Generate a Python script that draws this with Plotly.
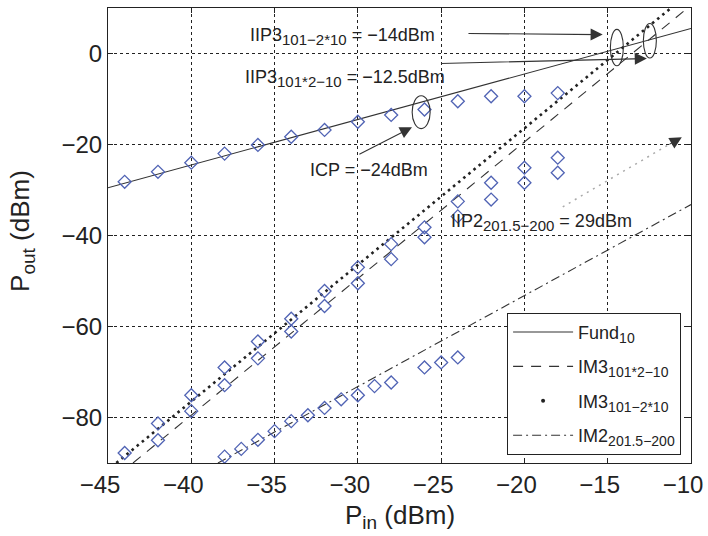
import plotly.graph_objects as go

# ---------------- data ----------------
fund_x = [-44, -42, -40, -38, -36, -34, -32, -30, -28, -26, -24, -22, -20, -18]
fund_y = [-28.2, -26.0, -24.0, -22.0, -20.1, -18.3, -16.8, -15.0, -13.5, -12.3, -10.5, -9.4, -9.4, -8.7]

im3_x = [-44, -42, -42, -40, -40, -38, -38, -36, -36, -34, -34, -32, -32, -30, -30,
         -28, -28, -26, -26, -24, -24, -22, -22, -20, -20, -18, -18]
im3_y = [-87.8, -81.3, -85.0, -75.1, -78.6, -69.0, -72.9, -63.3, -67.0, -58.3, -61.1,
         -52.2, -55.5, -47.0, -50.5, -41.9, -45.2, -38.2, -40.4, -32.5, -35.8,
         -28.4, -32.1, -25.1, -28.4, -22.9, -26.2]

im2_x = [-38, -37, -36, -35, -34, -33, -32, -31, -30, -29, -28, -26, -25, -24]
im2_y = [-88.6, -86.9, -84.9, -83.0, -80.8, -79.5, -77.9, -76.0, -75.1, -73.1, -72.3, -69.0, -67.9, -66.8]

# fitted lines (end points)
fund_line_x = [-45, -10]
fund_line_y = [-29.5, 5.5]
im3a_line_x = [-43.5, -10.2]          # IM3 101*2-10 (dashed)
im3a_line_y = [-90.0, 10.0]
im3b_line_x = [-44.5, -11.2]          # IM3 101-2*10 (dotted)
im3b_line_y = [-90.0, 10.0]
im2_line_x = [-38.4, -10]             # IM2 201.5-200 (dash-dot)
im2_line_y = [-90.0, -33.2]

x_ticks = [-45, -40, -35, -30, -25, -20, -15, -10]
y_ticks = [-80, -60, -40, -20, 0]


def sub(main, s, size):
    return f"{main}<sub><span style='font-size:{size}px'>{s}</span></sub>"


legend_names = [sub("Fund", "10", 14), sub("IM3", "101*2−10", 14),
                sub("IM3", "101−2*10", 14), sub("IM2", "201.5−200", 14)]

FONT = "Liberation Sans, Arial, Helvetica, sans-serif"
BLUE = "#5063b4"
INK = "#222222"

fig = go.Figure()

# lines
fig.add_trace(go.Scatter(x=fund_line_x, y=fund_line_y, mode="lines", name=legend_names[0],
                         legendgroup="a", line=dict(color="#333333", width=1.1)))
fig.add_trace(go.Scatter(x=im3a_line_x, y=im3a_line_y, mode="lines", name=legend_names[1],
                         legendgroup="b", line=dict(color="#333333", width=1.1, dash="10px,8px")))
fig.add_trace(go.Scatter(x=im3b_line_x, y=im3b_line_y, mode="lines", name=legend_names[2],
                         showlegend=False, legendgroup="c",
                         line=dict(color="#222222", width=2.6, dash="2.6px,4px")))
fig.add_trace(go.Scatter(x=[None], y=[None], mode="markers", name=legend_names[2],
                         legendgroup="c", marker=dict(color="#222222", size=4)))
fig.add_trace(go.Scatter(x=im2_line_x, y=im2_line_y, mode="lines", name=legend_names[3],
                         legendgroup="d",
                         line=dict(color="#333333", width=1.1, dash="9px,4px,2px,4px")))

# measured points
mk = dict(symbol="diamond-open", size=10, color=BLUE, line=dict(color=BLUE, width=1.3))
for xs, ys in [(fund_x, fund_y), (im3_x, im3_y), (im2_x, im2_y)]:
    fig.add_trace(go.Scatter(x=xs, y=ys, mode="markers", marker=mk, showlegend=False,
                             hoverinfo="x+y"))

# ellipses
ellipses = [(-14.45, 1.3, 0.39, 4.0), (-12.47, 2.8, 0.39, 3.8), (-26.2, -12.9, 0.54, 3.6)]
for cx, cy, rx, ry in ellipses:
    fig.add_shape(type="circle", xref="x", yref="y", x0=cx - rx, x1=cx + rx,
                  y0=cy - ry, y1=cy + ry, line=dict(color="#333333", width=1.1))

# dotted shaft of IIP2 arrow
fig.add_shape(type="line", xref="x", yref="y", x0=-17.7, y0=-33.7, x1=-10.9, y1=-19.1,
              line=dict(color="#aaaaaa", width=1.5, dash="2px,5px"))

# arrows
arrows = [((-23.45, 4.4), (-15.3, 4.15)),
          ((-25.1, -2.2), (-12.65, -1.1)),
          ((-30.0, -22.3), (-26.75, -16.2))]
for (tx, ty), (hx, hy) in arrows:
    fig.add_annotation(x=hx, y=hy, ax=tx, ay=ty, axref="x", ayref="y", xref="x", yref="y",
                       showarrow=True, arrowhead=2, arrowsize=2.2, arrowwidth=1.1,
                       arrowcolor="#333333", text="")
fig.add_annotation(x=-10.55, y=-18.4, ax=-14, ay=8, xref="x", yref="y", text="",
                   showarrow=True, arrowhead=2, arrowsize=2.2, arrowwidth=1.1,
                   arrowcolor="#333333")

# text labels
labels = [(-36.6, 3.7, sub("IIP3", "101−2*10", 15) + " = −14dBm"),
          (-36.9, -5.5, sub("IIP3", "101*2−10", 15) + " = −12.5dBm"),
          (-33.0, -25.6, "ICP = −24dBm"),
          (-24.5, -37.2, sub("IIP2", "201.5−200", 15) + " = 29dBm")]
for lx, ly, txt in labels:
    fig.add_annotation(x=lx, y=ly, xref="x", yref="y", text=txt, showarrow=False,
                       xanchor="left", yanchor="middle",
                       font=dict(family=FONT, size=18, color=INK))

# axis titles
fig.add_annotation(x=0.5, y=-0.077, xref="paper", yref="paper", showarrow=False,
                   xanchor="center", yanchor="top", text=sub("P", "in", 19) + " (dBm)",
                   font=dict(family=FONT, size=26, color=INK))
fig.add_annotation(x=-0.1475, y=0.51, xref="paper", yref="paper", showarrow=False,
                   xanchor="center", yanchor="middle", textangle=-90,
                   text=sub("P", "out", 19) + " (dBm)",
                   font=dict(family=FONT, size=26, color=INK))

axis_common = dict(showline=True, linecolor="#222222", linewidth=1, mirror="ticks",
                   ticks="inside", ticklen=5, tickcolor="#222222",
                   showgrid=True, gridcolor="#222222", gridwidth=1, griddash="dot",
                   zeroline=False, tickfont=dict(family=FONT, size=24, color=INK))

fig.update_xaxes(range=[-45, -10], tickvals=x_ticks, ticklabelshift=-8, **axis_common)
fig.update_yaxes(range=[-90, 10], tickvals=y_ticks, **axis_common)

fig.update_layout(
    width=708, height=536,
    margin=dict(l=108, r=17, t=8, b=73, autoexpand=False),
    plot_bgcolor="white", paper_bgcolor="white",
    font=dict(family=FONT, color=INK),
    legend=dict(x=0.983, y=0.018, xanchor="right", yanchor="bottom",
                bgcolor="white", bordercolor="#222222", borderwidth=1,
                font=dict(family=FONT, size=18, color=INK), itemwidth=60,
                tracegroupgap=8),
)

fig.write_html("out.html", config={"displayModeBar": False},
               post_script="document.body.style.margin='0';document.body.style.overflow='hidden';")
